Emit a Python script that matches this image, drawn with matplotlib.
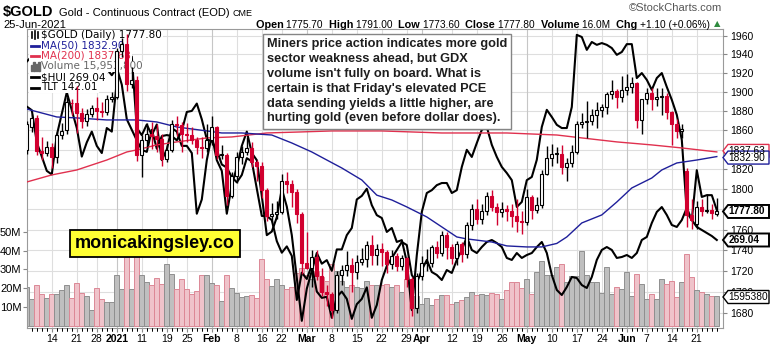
import numpy as np
import pandas as pd
import matplotlib
matplotlib.use("Agg")
import matplotlib.pyplot as plt
from matplotlib.patches import Polygon, Rectangle
from matplotlib.ticker import FixedLocator, NullLocator, FuncFormatter
from matplotlib.transforms import blended_transform_factory

# ---------- data ----------
holidays = ["2020-12-25", "2021-01-01", "2021-01-18", "2021-02-15", "2021-04-02", "2021-05-31"]
dates = pd.bdate_range("2020-12-07", "2021-06-25").drop(pd.to_datetime(holidays))

gold_open = [1840, 1863, 1873, 1839, 1837, 1843, 1832, 1855, 1860, 1888,
             1888, 1878, 1870, 1877, 1883, 1880, 1879, 1893, 1895, 1944,
             1951, 1908, 1913, 1835, 1850, 1856, 1854, 1851, 1830, 1840,
             1866, 1865, 1856, 1855, 1850, 1843, 1842, 1850, 1863, 1835,
             1835, 1793, 1813, 1832, 1838, 1842, 1827, 1823, 1799, 1773,
             1775, 1777, 1808, 1805, 1797, 1775, 1728, 1723, 1733, 1715,
             1700, 1698, 1683, 1716, 1721, 1726, 1719, 1729, 1731, 1745,
             1735, 1741, 1738, 1727, 1734, 1725, 1732, 1712, 1685, 1715,
             1728, 1728, 1743, 1737, 1755, 1743, 1732, 1746, 1736, 1764,
             1780, 1770, 1778, 1793, 1782, 1777, 1780, 1778, 1773, 1768,
             1767, 1792, 1779, 1784, 1815, 1831, 1836, 1836, 1822, 1826,
             1838, 1866, 1868, 1870, 1876, 1881, 1884, 1898, 1901, 1895,
             1902, 1905, 1909, 1871, 1892, 1899, 1893, 1895, 1896, 1879,
             1866, 1859, 1818, 1774, 1765, 1782, 1778, 1779, 1775.7]
gold_high = [1869, 1877, 1876, 1853, 1849, 1847, 1858, 1867, 1895, 1893,
             1906, 1883, 1882, 1886, 1895, 1889, 1897, 1900, 1947, 1958,
             1962, 1927, 1917, 1855, 1867, 1868, 1866, 1856, 1845, 1871,
             1875, 1868, 1867, 1863, 1853, 1853, 1866, 1875, 1864, 1845,
             1837, 1817, 1838, 1844, 1853, 1848, 1829, 1827, 1801, 1786,
             1788, 1815, 1817, 1809, 1800, 1777, 1758, 1740, 1740, 1723,
             1707, 1700, 1720, 1726, 1739, 1732, 1735, 1742, 1749, 1755,
             1746, 1747, 1740, 1740, 1737, 1735, 1733, 1714, 1718, 1734,
             1741, 1745, 1749, 1759, 1758, 1746, 1749, 1748, 1767, 1785,
             1790, 1785, 1797, 1799, 1786, 1787, 1784, 1785, 1790, 1778,
             1800, 1794, 1792, 1819, 1844, 1846, 1843, 1845, 1831, 1845,
             1869, 1878, 1890, 1882, 1889, 1887, 1900, 1913, 1903, 1917,
             1919, 1916, 1911, 1893, 1904, 1904, 1904, 1904, 1899, 1880,
             1872, 1866, 1821, 1790, 1788, 1790, 1795, 1785, 1791.0]
gold_low = [1836, 1858, 1834, 1829, 1833, 1821, 1826, 1851, 1856, 1876,
            1857, 1862, 1864, 1874, 1871, 1874, 1876, 1889, 1893, 1937,
            1901, 1904, 1828, 1812, 1843, 1841, 1838, 1823, 1827, 1838,
            1854, 1838, 1848, 1846, 1836, 1831, 1838, 1845, 1830, 1830,
            1784, 1791, 1806, 1825, 1834, 1822, 1808, 1791, 1768, 1767,
            1770, 1775, 1796, 1782, 1766, 1717, 1722, 1705, 1711, 1696,
            1687, 1676, 1680, 1707, 1715, 1700, 1712, 1726, 1724, 1726,
            1726, 1725, 1718, 1722, 1720, 1721, 1705, 1677, 1680, 1711,
            1720, 1724, 1732, 1734, 1731, 1727, 1726, 1729, 1732, 1760,
            1765, 1765, 1774, 1778, 1764, 1772, 1768, 1763, 1758, 1756,
            1764, 1770, 1776, 1781, 1814, 1823, 1826, 1815, 1808, 1822,
            1836, 1862, 1852, 1865, 1862, 1874, 1877, 1893, 1883, 1889,
            1897, 1899, 1862, 1856, 1887, 1881, 1885, 1876, 1872, 1845,
            1852, 1852, 1763, 1761, 1761, 1773, 1776, 1770, 1773.6]
gold_close = [1866, 1873, 1839, 1837, 1843, 1832, 1855, 1859, 1889, 1888,
              1878, 1870, 1877, 1883, 1880, 1879, 1893, 1895, 1944, 1951,
              1908, 1913, 1835, 1850, 1856, 1854, 1851, 1830, 1840, 1866,
              1865, 1856, 1855, 1850, 1843, 1842, 1850, 1863, 1835, 1835,
              1793, 1813, 1832, 1838, 1842, 1827, 1823, 1799, 1773, 1775,
              1777, 1808, 1805, 1797, 1775, 1728, 1723, 1733, 1715, 1700,
              1698, 1683, 1716, 1721, 1726, 1719, 1729, 1731, 1745, 1735,
              1741, 1738, 1727, 1734, 1725, 1732, 1712, 1685, 1715, 1728,
              1728, 1743, 1737, 1755, 1743, 1732, 1746, 1736, 1764, 1780,
              1770, 1778, 1793, 1782, 1777, 1780, 1778, 1773, 1768, 1767,
              1792, 1779, 1784, 1815, 1831, 1836, 1836, 1822, 1826, 1838,
              1866, 1868, 1870, 1876, 1881, 1884, 1898, 1901, 1895, 1902,
              1905, 1909, 1871, 1892, 1899, 1893, 1895, 1896, 1879, 1866,
              1859, 1861, 1774, 1769, 1782, 1778, 1779, 1776, 1777.8]

volume_m = [20.7, 14.4, 21.9, 17.1, 14.8, 16.9, 16.9, 19.4, 21.6, 14.8,
            22.8, 17.6, 15.9, 8.6, 20.1, 14.4, 12.7, 12.7, 26.9, 19.8,
            36.5, 19.8, 36.9, 26.9, 23.4, 21.6, 25.5, 22.5, 33.0, 27.8,
            19.8, 25.1, 19.8, 17.1, 18.4, 27.3, 26.9, 23.0, 22.0, 13.5,
            27.0, 20.0, 17.5, 15.5, 16.0, 16.5, 15.0, 35.5, 25.0, 21.5,
            25.0, 22.0, 19.5, 21.0, 28.0, 31.0, 27.0, 25.0, 29.0, 26.0,
            24.0, 33.0, 29.0, 24.0, 21.0, 22.0, 21.0, 20.0, 24.0, 22.0,
            21.6, 21.6, 22.5, 20.7, 21.6, 18.0, 25.1, 16.2, 16.2, 11.8,
            14.8, 11.2, 14.4, 16.6, 16.6, 11.8, 12.7, 14.1, 15.3, 18.0,
            16.6, 17.1, 16.6, 17.5, 17.1, 14.4, 19.1, 23.5, 23.2, 20.3,
            25.1, 17.1, 28.7, 34.4, 27.3, 26.9, 31.2, 33.0, 23.5, 26.7,
            26.7, 39.6, 26.9, 23.5, 23.5, 17.8, 31.2, 17.1, 20.7, 19.8,
            28.7, 16.2, 27.8, 22.3, 14.3, 17.1, 14.3, 25.0, 22.1, 23.9,
            15.5, 23.2, 38.0, 26.0, 18.9, 18.0, 17.1, 16.2, 15.95]

hui = [298, 297, 288, 284, 280, 279, 290, 296, 302, 297,
       292, 284, 288, 291, 287, 285, 292, 291, 305, 316,
       310, 312, 292, 290, 293, 290, 293, 283, 286, 292,
       291, 287, 287, 285, 268, 272, 283, 290, 283, 280,
       268, 276, 281, 287, 291, 285, 283, 273, 262, 263,
       267, 275, 270, 262, 250, 238, 247, 252, 257, 254,
       255, 252, 258, 258, 262, 264, 272, 273, 275, 270.4,
       267.6, 266.8, 262.9, 264.0, 260.1, 260.6, 254.5, 241.0, 256.4, 268.5,
       273.8, 274.6, 276.0, 276.6, 276.6, 273.8, 274.6, 281.1, 285.9, 283.9,
       287.8, 291.5, 292.3, 287.3, 283.9, 281.1, 279.4, 277.4, 269.9, 271.3,
       277.4, 278.3, 283.1, 292.3, 297.1, 295.1, 292.9, 292.0, 292.0, 297.9,
       318.1, 317.5, 313.9, 316.1, 315.3, 315.8, 315.3, 314.4, 312.5, 313.3,
       315.5, 315.5, 306.0, 307.4, 305.5, 302.7, 306.0, 307.4, 303.5, 299.9,
       295.7, 288.7, 268.5, 266.2, 280.2, 272.7, 273.2, 273.2, 269.04]

tlt = [159.0, 159.5, 158.0, 159.8, 160.5, 160.3, 159.5, 158.8, 158.3, 157.5,
       158.5, 158.8, 157.3, 158.2, 158.5, 158.6, 158.3, 157.7, 158.4, 156.8,
       153.5, 152.5, 151.5, 150.6, 150.4, 152.5, 150.7, 151.9, 152.0, 151.9,
       151.5, 152.4, 154.2, 154.3, 155.0, 153.5, 151.6, 151.4, 150.6, 149.2,
       148.9, 148.0, 147.5, 148.2, 149.8, 149.5, 146.9, 144.3, 144.3, 143.9,
       141.9, 140.8, 141.4, 140.5, 136.3, 138.9, 138.3, 139.6, 137.1, 136.5,
       136.6, 134.6, 136.6, 137.1, 136.4, 134.5, 135.9, 136.4, 137.5, 134.6,
       135.82, 138.20, 139.53, 140.30, 141.06, 141.82, 141.53, 138.68, 137.91, 139.15,
       140.11, 138.96, 138.68, 138.20, 139.15, 138.87, 140.11, 141.06, 142.30, 141.06,
       140.77, 141.34, 141.82, 142.01, 141.72, 141.34, 140.30, 140.11, 140.77, 140.30,
       140.58, 140.77, 141.34, 141.82, 140.77, 138.68, 137.25, 136.77, 137.53, 138.49,
       138.39, 137.72, 137.44, 138.49, 140.11, 141.06, 141.34, 141.06, 140.30, 140.39,
       140.58, 140.30, 140.77, 142.01, 142.30, 143.63, 144.68, 145.15, 144.39, 143.44,
       143.25, 143.91, 145.06, 143.91, 143.25, 142.96, 142.68, 142.39, 142.01]

ma50_idx = [0, 6, 10, 16, 22, 26, 30, 36, 39, 43, 49, 53, 57, 60, 63, 67, 70, 73, 76,
            80, 83, 86, 88, 93, 96, 100, 103, 106, 108, 111, 115, 118, 121, 125, 127,
            130, 134, 138]
ma50_val = [1882.0, 1873.7, 1872.7, 1870.6, 1870.6, 1868.5, 1863.3, 1859.2, 1857.1,
            1857.1, 1855.0, 1846.8, 1837.6, 1829.4, 1821.3, 1809.2, 1794.0, 1789.2,
            1782.3, 1772.4, 1762.6, 1752.8, 1750.9, 1747.9, 1744.1, 1743.1, 1743.1,
            1746.5, 1752.8, 1766.5, 1774.4, 1787.2, 1801.2, 1811.2, 1819.3, 1826.4,
            1829.4, 1832.9]
ma200_idx = [0, 5, 10, 16, 20, 22, 26, 30, 36, 41, 48, 55, 61, 71, 83, 96, 106, 111,
             118, 125, 131, 138]
ma200_val = [1807.2, 1814.3, 1819.3, 1829.4, 1837.6, 1839.7, 1844.8, 1847.9, 1852.0,
             1853.0, 1857.1, 1858.2, 1859.2, 1859.2, 1857.1, 1857.1, 1855.0, 1852.0,
             1847.9, 1844.8, 1841.7, 1837.63]

tick_dates = ["2020-12-14", "2020-12-21", "2020-12-28", "2021-01-04", "2021-01-11",
              "2021-01-19", "2021-01-25", "2021-02-01", "2021-02-08", "2021-02-16",
              "2021-02-22", "2021-03-01", "2021-03-08", "2021-03-15", "2021-03-22",
              "2021-03-29", "2021-04-01", "2021-04-12", "2021-04-19", "2021-04-26",
              "2021-05-03", "2021-05-10", "2021-05-17", "2021-05-24", "2021-06-01",
              "2021-06-07", "2021-06-14", "2021-06-21"]
tick_labels = ["14", "21", "28", "2021", "11", "19", "25", "Feb", "8", "16", "22", "Mar",
               "8", "15", "22", "29", "Apr", "12", "19", "26", "May", "10", "17", "24",
               "Jun", "7", "14", "21"]
bold_labels = {"2021", "Feb", "Mar", "Apr", "May", "Jun"}
price_ticks = list(range(1680, 1961, 20))
hidden_price_labels = {1780, 1840}  # sit under the value tags
volume_ticks = [10, 20, 30, 40, 50]

note = ("Miners price action indicates more gold\n"
        "sector weakness ahead, but GDX\n"
        "volume isn't fully on board. What is\n"
        "certain is that Friday's elevated PCE\n"
        "data sending yields a little higher, are\n"
        "hurting gold (even before dollar does).")

# ---------- styling ----------
RED = "#d1002f"
MA50_C = "#1f1f9a"
MA200_C = "#e0304e"
GRID = "#dedede"
SANS = ["Liberation Sans", "DejaVu Sans"]

W, H = 772, 345
fig = plt.figure(figsize=(W / 100, H / 100), dpi=100)
renderer = fig.canvas.get_renderer()


def fx(px):
    return px / W


def fy(py):
    return 1 - py / H


L, R, T, B = 27, 723, 29, 328
rect = [fx(L), fy(B), (R - L) / W, (B - T) / H]

ax_vol = fig.add_axes(rect, zorder=0)
ax_tlt = fig.add_axes(rect, sharex=ax_vol, zorder=1)
ax_hui = fig.add_axes(rect, sharex=ax_vol, zorder=2)
ax = fig.add_axes(rect, sharex=ax_vol, zorder=3)
for a in (ax, ax_tlt, ax_hui):
    a.patch.set_visible(False)
    for s in a.spines.values():
        s.set_visible(False)

x = np.arange(len(dates))
o = np.array(gold_open, float)
h = np.array(gold_high, float)
lo = np.array(gold_low, float)
c = np.array(gold_close, float)
prev = np.r_[c[0] - 1, c[:-1]]
down = c < prev
cc = np.where(down, RED, "black")

# price scale first (grid in the volume panel uses it)
ax.set_yscale("log")
ax.set_ylim(1666.3, 1967.6)

# grid + volume in the bottom panel
tick_idx = [dates.get_loc(pd.Timestamp(d)) for d in tick_dates]
ygrid = blended_transform_factory(ax_vol.transAxes, ax.transData)
for yv in price_ticks:
    ax_vol.plot([0, 1], [yv, yv], color=GRID, lw=0.8, transform=ygrid, zorder=0)
for xi, lab in zip(tick_idx, tick_labels):
    ax_vol.axvline(xi, color="#c6c6c6" if lab in bold_labels else GRID, lw=0.8, zorder=0)

ax_vol.bar(x, volume_m, width=1.0, color=np.where(down, "#efc3ca", "#bfbfbf"),
           edgecolor=np.where(down, "#dc8896", "#8f8f8f"), linewidth=0.7, zorder=1)
ax_vol.set_ylim(-0.95, 157.2)
ax_vol.set_yticks(volume_ticks)
ax_vol.set_yticklabels([f"{v}M" for v in volume_ticks], family=SANS, fontsize=8)
ax_vol.tick_params(axis="y", length=3, color="#888888", pad=1)
for s in ax_vol.spines.values():
    s.set_color("#9a9a9a")
    s.set_linewidth(0.8)

ax_vol.set_xticks(tick_idx)
ax_vol.set_xticklabels(tick_labels, family=SANS, fontsize=7.5)
for lab in ax_vol.get_xticklabels():
    if lab.get_text() in bold_labels:
        lab.set_fontweight("bold")
ax_vol.set_xticks(x, minor=True)
ax_vol.tick_params(axis="x", which="major", length=3, color="#888888", pad=1.5)
ax_vol.tick_params(axis="x", which="minor", length=2, color="#aaaaaa")
ax_vol.set_xlim(0.04, 139.24)

# price panel: axis on the right, MAs and candles
ax.yaxis.set_major_locator(FixedLocator(price_ticks))
ax.yaxis.set_minor_locator(NullLocator())
ax.yaxis.set_major_formatter(
    FuncFormatter(lambda v, p: "" if round(v) in hidden_price_labels else f"{v:.0f}"))
ax.yaxis.tick_right()
ax.tick_params(axis="y", length=3, color="#888888", pad=2, labelsize=7.5)
for lab in ax.get_yticklabels():
    lab.set_family(SANS)
ax.tick_params(axis="x", which="both", bottom=False, labelbottom=False)

ax.plot(ma200_idx, ma200_val, color=MA200_C, lw=1.0, zorder=2)
ax.plot(ma50_idx, ma50_val, color=MA50_C, lw=1.0, zorder=2)

ax.vlines(x, lo, h, colors=cc, lw=1.0, zorder=3)
body = np.maximum(np.abs(c - o), 0.8)
ax.bar(x, body, bottom=np.minimum(o, c), width=0.62,
       color=np.where(c < o, cc, "white"), edgecolor=cc, linewidth=0.8, zorder=4)

# overlays
ax_tlt.plot(x, tlt, color="black", lw=1.5)
ax_tlt.set_ylim(133.63, 162.10)
ax_hui.plot(x, hui, color="black", lw=1.5)
ax_hui.set_ylim(235.99, 319.74)
for a in (ax_tlt, ax_hui):
    a.tick_params(left=False, right=False, bottom=False, labelleft=False,
                  labelbottom=False)

# ---------- legend: opaque rows above the overlay lines, below the candles ----------
rows = [(f"$GOLD (Daily) {c[-1]:.2f}", "black", "candle"),
        (f"MA(50) {ma50_val[-1]:.2f}", MA50_C, "line"),
        (f"MA(200) {ma200_val[-1]:.2f}", MA200_C, "line"),
        ("Volume 15,953,800", "#666666", "bars"),
        (f"$HUI {hui[-1]:.2f}", "black", "line"),
        (f"TLT {tlt[-1]:.2f}", "black", "line")]
for k, (txt, col, kind) in enumerate(rows):
    yy = 35 + k * 10.5
    t = fig.text(fx(41), fy(yy), txt, color=col, fontsize=7.5, family="DejaVu Sans",
                 va="center", ha="left", zorder=2.6)
    right = t.get_window_extent(renderer).x1 + 1
    fig.add_artist(Rectangle((fx(29), fy(yy + 5.25)), (right - 29) / W, 10.5 / H,
                             transform=fig.transFigure, facecolor="white",
                             edgecolor="none", zorder=2.5))
    if kind == "line":
        fig.add_artist(plt.Line2D([fx(31), fx(39)], [fy(yy), fy(yy)], color=col, lw=2,
                                  zorder=2.6))
    elif kind == "candle":
        for dx, hh in ((31.5, 3), (34.5, 4), (37.5, 3)):
            fig.add_artist(plt.Line2D([fx(dx), fx(dx)], [fy(yy - hh), fy(yy + hh)],
                                      color=col, lw=1.2, zorder=2.6))
    else:
        for dx, hh in ((31.5, 2), (34, 4), (36.5, 3), (39, 4)):
            fig.add_artist(Rectangle((fx(dx - 0.9), fy(yy + 4)), 1.8 / W, (hh + 4) / H,
                                     transform=fig.transFigure, color=col, zorder=2.6))

# ---------- header ----------
t = fig.text(fx(3), fy(16), "$GOLD", fontsize=10.5, fontweight="bold",
             family=SANS, va="baseline")
xa = t.get_window_extent(renderer).x1 + 5
t = fig.text(xa / W, fy(15.5), "Gold - Continuous Contract (EOD)", fontsize=8,
             family=SANS, va="baseline")
xa = t.get_window_extent(renderer).x1 + 3
fig.text(xa / W, fy(15.5), "CME", fontsize=6.5, family=SANS, va="baseline")
fig.text(fx(3), fy(27.5), dates[-1].strftime("%d-%b-%Y"), fontsize=8, family=SANS,
         va="baseline")
fig.text(fx(722), fy(11), "\u00a9StockCharts.com", fontsize=8, color="#555555",
         family=SANS, ha="right", va="baseline")

pieces = [("Open ", "bold"), (f"{o[-1]:.2f}  ", "normal"), ("High ", "bold"),
          (f"{h[-1]:.2f}  ", "normal"), ("Low ", "bold"), (f"{lo[-1]:.2f}  ", "normal"),
          ("Close ", "bold"), (f"{c[-1]:.2f}  ", "normal"), ("Volume ", "bold"),
          ("16.0M  ", "normal"), ("Chg ", "bold"), ("+1.10 (+0.06%) ", "normal")]
xr = 713
fig.text(fx(xr + 1), fy(26), "\u25b2", fontsize=6, color="#2e8b3e",
         family=["DejaVu Sans"], ha="left", va="baseline")
for s, wgt in reversed(pieces):
    t = fig.text(fx(xr), fy(27.5), s, fontsize=7.8 if wgt == "bold" else 7.3,
                 fontweight=wgt, family=SANS, ha="right", va="baseline")
    xr -= t.get_window_extent(renderer).width

# ---------- boxes ----------
fig.text(fx(267), fy(38.5), note, fontsize=9.2, fontweight="bold", family=SANS,
         va="top", ha="left", linespacing=1.31, color="#1e1e1e", zorder=10,
         bbox=dict(boxstyle="square,pad=0.32", facecolor="white", edgecolor="#858585",
                   lw=1.0))
fig.text(fx(155), fy(243.5), "monicakingsley.co", fontsize=13, fontweight="bold",
         family=SANS, ha="center", va="center", zorder=10,
         bbox=dict(boxstyle="square,pad=0.3", facecolor="#ffff33", edgecolor="black",
                   lw=1.3))


# ---------- value tags on the right ----------
def y_of(axis, val):
    return H - axis.transData.transform((0, val))[1]


def tag(ypx, text, edge, weight="normal", lw=1.0):
    x0, x1, hh = 723, 769, 6.5
    pts = [(x0, ypx), (x0 + 5, ypx - hh), (x1, ypx - hh), (x1, ypx + hh), (x0 + 5, ypx + hh)]
    fig.add_artist(Polygon([(fx(a), fy(b)) for a, b in pts], closed=True,
                           transform=fig.transFigure, facecolor="white", edgecolor=edge,
                           lw=lw, zorder=20))
    fig.text(fx(x0 + 5.5), fy(ypx), text, fontsize=7.3, fontweight=weight, family=SANS,
             color="black", va="center", ha="left", zorder=21)


tag(y_of(ax, ma200_val[-1]) - 1, f"{ma200_val[-1]:.2f}", MA200_C)
tag(y_of(ax, ma50_val[-1]) + 1, f"{ma50_val[-1]:.2f}", MA50_C)
tag(y_of(ax, c[-1]), f"{c[-1]:.2f}", "black", "bold", 1.4)
tag(y_of(ax_tlt, tlt[-1]), f"{hui[-1]:.2f}", "black", "bold", 1.4)
tag(297, "1595380", "black")

fig.savefig("out.png", dpi=100)
